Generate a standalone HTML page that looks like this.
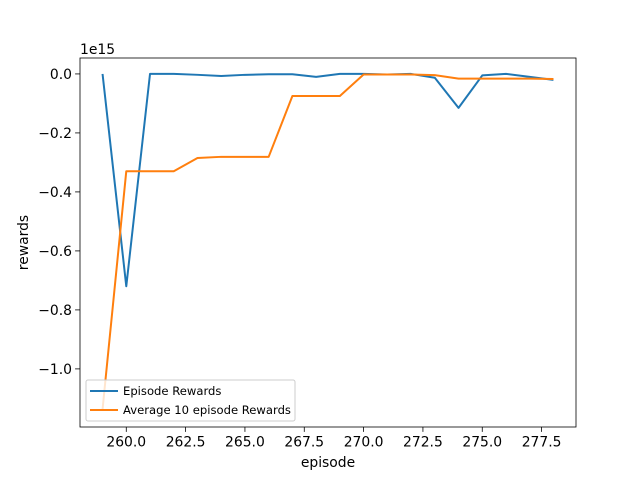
<!DOCTYPE html>
<html><head><meta charset="utf-8"><style>
body{margin:0;background:#fff;font-family:"DejaVu Sans","Liberation Sans",sans-serif;}
svg text{font-family:"DejaVu Sans","Liberation Sans",sans-serif;}
</style></head><body>
<svg id="chart" width="640" height="480" viewBox="0 0 640 480">
<rect width="640" height="480" fill="#fff"/>
<g id="plot"></g>
</svg>
<script>
const episodes = [259,260,261,262,263,264,265,266,267,268,269,270,271,272,273,274,275,276,277,278];
const episodeRewards = [0.0,-0.72,0.0,0.0,-0.003,-0.007,-0.003,-0.001,-0.001,-0.01,0.0,0.0,-0.002,0.0,-0.013,-0.115,-0.005,0.0,-0.01,-0.02];
const avgRewards = [-1.137,-0.33,-0.33,-0.33,-0.285,-0.281,-0.281,-0.281,-0.075,-0.075,-0.075,-0.002,-0.002,-0.002,-0.004,-0.016,-0.016,-0.016,-0.016,-0.017];
const xTicks = [260,262.5,265,267.5,270,272.5,275,277.5];
const yTicks = [0,-0.2,-0.4,-0.6,-0.8,-1.0];

const NS="http://www.w3.org/2000/svg";
const L=80,R=576,T=58,B=427;
const xmin=258.05,xmax=278.95,ymax=0.054,ymin=-1.197;
const sx=v=>L+(v-xmin)/(xmax-xmin)*(R-L);
const sy=v=>T+(ymax-v)/(ymax-ymin)*(B-T);
const g=document.getElementById('plot');
function mk(tag,attrs,text){const e=document.createElementNS(NS,tag);for(const k in attrs)e.setAttribute(k,attrs[k]);if(text!==undefined)e.textContent=text;g.appendChild(e);return e;}

xTicks.forEach(v=>{
  const x=sx(v);
  const t=mk('line',{x1:x,x2:x,y1:B,y2:B+4.9,stroke:'#000','stroke-width':0.8});
  
  
  const l=mk('text',{x:x,y:B+19.5,'font-size':13.9,'text-anchor':'middle',fill:'#000'},v.toFixed(1));
  
  
});
yTicks.forEach(v=>{
  const y=sy(v);
  const t=mk('line',{x1:L-4.9,x2:L,y1:y,y2:y,stroke:'#000','stroke-width':0.8});
  
  
  const l=mk('text',{x:L-8,y:y+5,'font-size':13.9,'text-anchor':'end',fill:'#000'},(v===0?0:v).toFixed(1).replace('-','\u2212'));
  
  
});
function line(vals,color,name){
  const p=mk('polyline',{points:episodes.map((e,i)=>sx(e)+','+sy(vals[i])).join(' '),fill:'none',stroke:color,'stroke-width':2,'stroke-linejoin':'round'});
  
  
}
line(episodeRewards,'#1f77b4','episode-rewards-line');
line(avgRewards,'#ff7f0e','average-rewards-line');
const fr=mk('rect',{x:L,y:T,width:R-L,height:B-T,fill:'none',stroke:'#000','stroke-width':0.8});


const ox=mk('text',{x:L,y:T-4,'font-size':13.9,fill:'#000'},'1e15');


const xt=mk('text',{x:(L+R)/2,y:467,'font-size':13.9,'text-anchor':'middle',fill:'#000'},'episode');


const yt=mk('text',{x:28,y:(T+B)/2,'font-size':13.9,'text-anchor':'middle',fill:'#000',transform:'rotate(-90 28 '+((T+B)/2)+')'},'rewards');


const lg=mk('rect',{x:86,y:380,width:209,height:41,rx:2,fill:'#fff','fill-opacity':0.8,stroke:'#ccc','stroke-width':1});


[['Episode Rewards','#1f77b4',391],['Average 10 episode Rewards','#ff7f0e',410]].forEach(([n,c,y])=>{
  const s=mk('line',{x1:90,x2:118,y1:y,y2:y,stroke:c,'stroke-width':2});
  
  
  const t=mk('text',{x:123,y:y+4,'font-size':11.6,fill:'#000'},n);
  
  
});
</script>
</body></html>
